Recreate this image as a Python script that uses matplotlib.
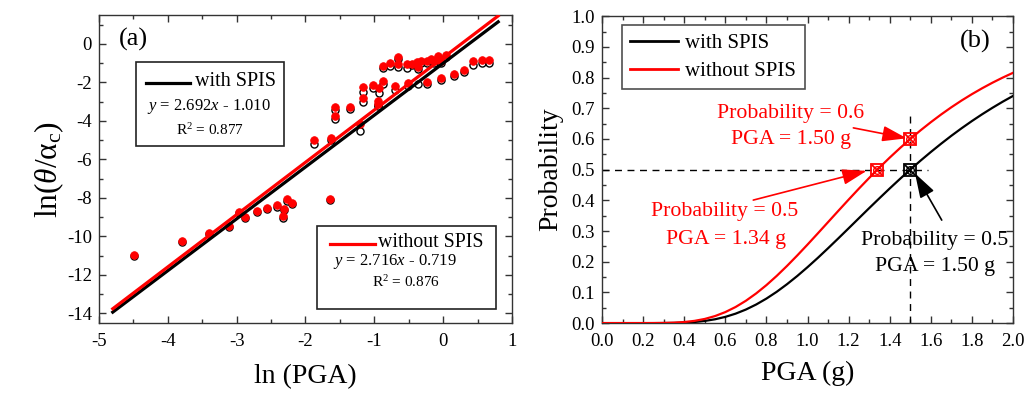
import matplotlib
matplotlib.use("Agg")
import matplotlib.pyplot as plt
from matplotlib.patches import Rectangle
from matplotlib.lines import Line2D
from matplotlib.ticker import MultipleLocator, FormatStrFormatter

plt.rcParams['font.family'] = ['Liberation Serif', 'DejaVu Serif']
plt.rcParams['mathtext.fontset'] = 'custom'
plt.rcParams['mathtext.rm'] = 'Liberation Serif'
plt.rcParams['mathtext.it'] = 'Liberation Serif:italic'
plt.rcParams['mathtext.bf'] = 'Liberation Serif:bold'
plt.rcParams['axes.unicode_minus'] = False

# ---------------- data: panel (a) ----------------
ln_pga = [-4.49, -3.80, -3.40, -3.11, -2.96, -2.88, -2.70, -2.56, -2.41, -2.33,
          -2.31, -2.27, -2.19, -1.64, -1.87, -1.63, -1.57, -1.57, -1.355, -1.21,
          -1.17, -1.17, -1.02, -0.94, -0.94, -0.93, -0.88, -0.87, -0.77, -0.70,
          -0.656, -0.656, -0.53, -0.51, -0.456, -0.374, -0.37, -0.316, -0.24, -0.24,
          -0.18, -0.13, -0.068, -0.03, -0.024, 0.039, 0.16, 0.31, 0.44, 0.558, 0.67]
ln_ratio_without = [-10.94, -10.24, -9.81, -9.46, -8.73, -8.98, -8.68, -8.52, -8.39, -8.94,
                    -8.56, -8.07, -8.25, -8.04, -5.00, -4.90, -3.30, -3.77, -3.26, -4.17,
                    -2.26, -2.79, -2.14, -2.95, -3.10, -2.31, -1.13, -1.94, -0.97, -2.20,
                    -0.69, -1.04, -1.04, -2.05, -1.04, -0.95, -1.22, -0.90, -1.96, -0.87,
                    -0.78, -0.87, -0.64, -0.87, -1.79, -0.56, -1.56, -1.37, -0.90, -0.82, -0.82]
ln_ratio_with = [-11.00, -10.30, -9.88, -9.53, -8.80, -9.06, -8.75, -8.58, -8.45, -9.02,
                 -8.63, -8.14, -8.32, -8.10, -5.21, -5.00, -3.44, -3.91, -3.40, -4.50,
                 -2.48, -3.03, -2.31, -3.20, -3.25, -2.57, -1.25, -2.08, -1.13, -2.38,
                 -0.80, -1.22, -1.26, -2.20, -1.12, -1.05, -1.30, -1.00, -2.10, -0.98,
                 -0.90, -0.98, -0.75, -1.00, -1.90, -0.68, -1.66, -1.47, -1.08, -0.99, -0.99]
ln_pga_extra_with = [-0.36]
ln_ratio_extra_with = [-2.08]

fit_x_range = [-4.8, 0.8]
slope_with, intercept_with = 2.692, -1.010
slope_without, intercept_without = 2.716, -0.719

# ---------------- data: panel (b) ----------------
pga = [0.00, 0.05, 0.10, 0.15, 0.20, 0.25, 0.30, 0.35, 0.40, 0.45, 0.50, 0.55, 0.60,
       0.65, 0.70, 0.75, 0.80, 0.85, 0.90, 0.95, 1.00, 1.05, 1.10, 1.15, 1.20, 1.25,
       1.30, 1.35, 1.40, 1.45, 1.50, 1.55, 1.60, 1.65, 1.70, 1.75, 1.80, 1.85, 1.90,
       1.95, 2.00]
prob_with = [0.0, 0.0, 0.0, 0.0, 0.0, 0.0, 0.0002, 0.0006, 0.0016, 0.0035, 0.0070,
             0.0124, 0.0202, 0.0307, 0.0441, 0.0605, 0.0798, 0.1019, 0.1266, 0.1534,
             0.1822, 0.2124, 0.2439, 0.2761, 0.3088, 0.3417, 0.3745, 0.4068, 0.4387,
             0.4698, 0.5000, 0.5293, 0.5574, 0.5844, 0.6103, 0.6349, 0.6583, 0.6805,
             0.7015, 0.7214, 0.7401]
prob_without = [0.0, 0.0, 0.0, 0.0, 0.0, 0.0001, 0.0004, 0.0013, 0.0034, 0.0072, 0.0135,
                0.0229, 0.0358, 0.0524, 0.0727, 0.0966, 0.1237, 0.1537, 0.1861, 0.2203,
                0.2558, 0.2922, 0.3290, 0.3658, 0.4023, 0.4381, 0.4729, 0.5067, 0.5392,
                0.5702, 0.5998, 0.6280, 0.6545, 0.6796, 0.7032, 0.7253, 0.7459, 0.7652,
                0.7832, 0.7999, 0.8154]
median_with = 1.50
median_without = 1.34
prob_at_150_without = 0.6
target_prob = 0.5

fig = plt.figure(figsize=(10.27, 3.94), dpi=100)
axA = fig.add_axes([0.0964, 0.180, 0.4021, 0.782])
axB = fig.add_axes([0.5862, 0.180, 0.4002, 0.779])

def style(ax):
    ax.tick_params(which='both', direction='in', top=True, right=True, labelsize=13.5,
                   width=1.0, color='#333333')
    ax.tick_params(which='major', length=5)
    ax.tick_params(which='minor', length=3)
    ax.tick_params(axis='x', pad=7)
    ax.tick_params(axis='y', pad=5)
    for s in ax.spines.values():
        s.set_linewidth(1.0)
        s.set_color('#333333')

# ---------------- panel (a) ----------------
axA.scatter(ln_pga + ln_pga_extra_with, ln_ratio_with + ln_ratio_extra_with, s=26,
            facecolor='white', edgecolor='black', linewidth=1.0, zorder=3)
axA.scatter(ln_pga, ln_ratio_without, s=30, facecolor='red', edgecolor='red',
            linewidth=0.6, zorder=4)
fx = fit_x_range
axA.plot(fx, [slope_with * v + intercept_with for v in fx], color='black', lw=2.3, zorder=5)
axA.plot(fx, [slope_without * v + intercept_without for v in fx], color='red', lw=2.3, zorder=5)
axA.set_xlim(-5, 1)
axA.set_ylim(-14.5, 1.5)
axA.xaxis.set_major_locator(MultipleLocator(1))
axA.xaxis.set_minor_locator(MultipleLocator(0.5))
axA.yaxis.set_major_locator(MultipleLocator(2))
axA.yaxis.set_minor_locator(MultipleLocator(1))
style(axA)
axA.set_xlabel('ln (PGA)', fontsize=20, labelpad=10)
axA.set_ylabel(r'ln($\theta$/α$_{\mathrm{c}}$)', fontsize=22.5, labelpad=1)
axA.text(0.083, 0.919, '(a)', transform=axA.transAxes, fontsize=19, ha='center', va='center')

# box 1
axA.add_patch(Rectangle((0.0889, 0.5756), 0.3598, 0.2708, transform=axA.transAxes,
                        fill=True, facecolor='white', edgecolor='#222222', lw=1.2, zorder=6))
axA.add_line(Line2D([0.114, 0.220], [0.780, 0.780], transform=axA.transAxes,
                    color='black', lw=2.3, zorder=7))
axA.text(0.232, 0.785, 'with SPIS', transform=axA.transAxes, fontsize=14.5,
         ha='left', va='center', zorder=7)
axA.text(0.267, 0.702, r'$y$ = 2.692$x$ - 1.010', transform=axA.transAxes, fontsize=12,
         ha='center', va='center', zorder=7)
axA.text(0.268, 0.625, r'R$^{2}$ = 0.877', transform=axA.transAxes, fontsize=11,
         ha='center', va='center', zorder=7)
# box 2
axA.add_patch(Rectangle((0.527, 0.0445), 0.434, 0.2705, transform=axA.transAxes,
                        fill=True, facecolor='white', edgecolor='#222222', lw=1.2, zorder=6))
axA.add_line(Line2D([0.559, 0.668], [0.2565, 0.2565], transform=axA.transAxes,
                    color='red', lw=2.3, zorder=7))
axA.text(0.676, 0.261, 'without SPIS', transform=axA.transAxes, fontsize=14.3,
         ha='left', va='center', zorder=7)
axA.text(0.717, 0.199, r'$y$ = 2.716$x$ - 0.719', transform=axA.transAxes, fontsize=12,
         ha='center', va='center', zorder=7)
axA.text(0.743, 0.133, r'R$^{2}$ = 0.876', transform=axA.transAxes, fontsize=11,
         ha='center', va='center', zorder=7)

# ---------------- panel (b) ----------------
axB.plot(pga, prob_with, color='black', lw=1.6, label='with SPIS', zorder=3)
axB.plot(pga, prob_without, color='red', lw=1.6, label='without SPIS', zorder=3)
axB.plot([0, 1.588], [target_prob, target_prob], color='black', lw=1.0, ls=(0, (5, 4)), zorder=2)
axB.plot([median_with, median_with], [0, 0.6775], color='black', lw=1.0, ls=(0, (5, 4)), zorder=2)

def mark(x, y, c):
    axB.plot([x], [y], marker='s', ms=8.5, mfc='none', mec=c, mew=1.3, zorder=5)
    axB.plot([x], [y], marker='x', ms=7.5, mec=c, mew=1.3, zorder=5)
    axB.plot([x], [y], marker='o', ms=5.5, mfc='none', mec=c, mew=1.0, zorder=5)

mark(median_with, prob_at_150_without, 'red')
mark(median_without, target_prob, 'red')
mark(median_with, target_prob, 'black')

axB.set_xlim(0, 2.0)
axB.set_ylim(0, 1.0)
axB.xaxis.set_major_locator(MultipleLocator(0.2))
axB.xaxis.set_minor_locator(MultipleLocator(0.1))
axB.yaxis.set_major_locator(MultipleLocator(0.1))
axB.yaxis.set_minor_locator(MultipleLocator(0.05))
axB.xaxis.set_major_formatter(FormatStrFormatter('%.1f'))
axB.yaxis.set_major_formatter(FormatStrFormatter('%.1f'))
style(axB)
axB.set_xlabel('PGA (g)', fontsize=20, labelpad=8)
axB.set_ylabel('Probability', fontsize=20, labelpad=6)
axB.text(0.907, 0.917, '(b)', transform=axB.transAxes, fontsize=19, ha='center', va='center')

leg = axB.legend(loc='upper left', bbox_to_anchor=(0.048, 0.971), borderaxespad=0,
                 fontsize=15, frameon=True, fancybox=False, edgecolor='#222222',
                 handlelength=2.3, handletextpad=0.35, borderpad=0.4, labelspacing=0.4)
leg.get_frame().set_linewidth(1.2)
for l in leg.get_lines():
    l.set_linewidth(2.0)

fs = 15.7
axB.text(0.917, 0.683, 'Probability = 0.6', color='red', fontsize=fs, ha='center', va='center')
axB.text(0.919, 0.598, 'PGA = 1.50 g', color='red', fontsize=fs, ha='center', va='center')
axB.text(0.598, 0.3625, 'Probability = 0.5', color='red', fontsize=fs, ha='center', va='center')
axB.text(0.602, 0.2726, 'PGA = 1.34 g', color='red', fontsize=fs, ha='center', va='center')
axB.text(1.618, 0.270, 'Probability = 0.5', color='black', fontsize=fs, ha='center', va='center')
axB.text(1.622, 0.183, 'PGA = 1.50 g', color='black', fontsize=fs, ha='center', va='center')

astyle = '-|>,head_length=1.0,head_width=0.32'
axB.annotate('', xy=(1.483, 0.602), xytext=(1.223, 0.636),
             arrowprops=dict(arrowstyle=astyle, color='red', lw=1.2, mutation_scale=15,
                             shrinkA=0, shrinkB=0), zorder=6)
axB.annotate('', xy=(1.288, 0.496), xytext=(0.736, 0.4007),
             arrowprops=dict(arrowstyle=astyle, color='red', lw=1.2, mutation_scale=15,
                             shrinkA=0, shrinkB=0), zorder=6)
axB.annotate('', xy=(1.523, 0.4876), xytext=(1.653, 0.3355),
             arrowprops=dict(arrowstyle=astyle, color='black', lw=1.2, mutation_scale=15,
                             shrinkA=0, shrinkB=0), zorder=6)

fig.savefig('out.png', dpi=100)
